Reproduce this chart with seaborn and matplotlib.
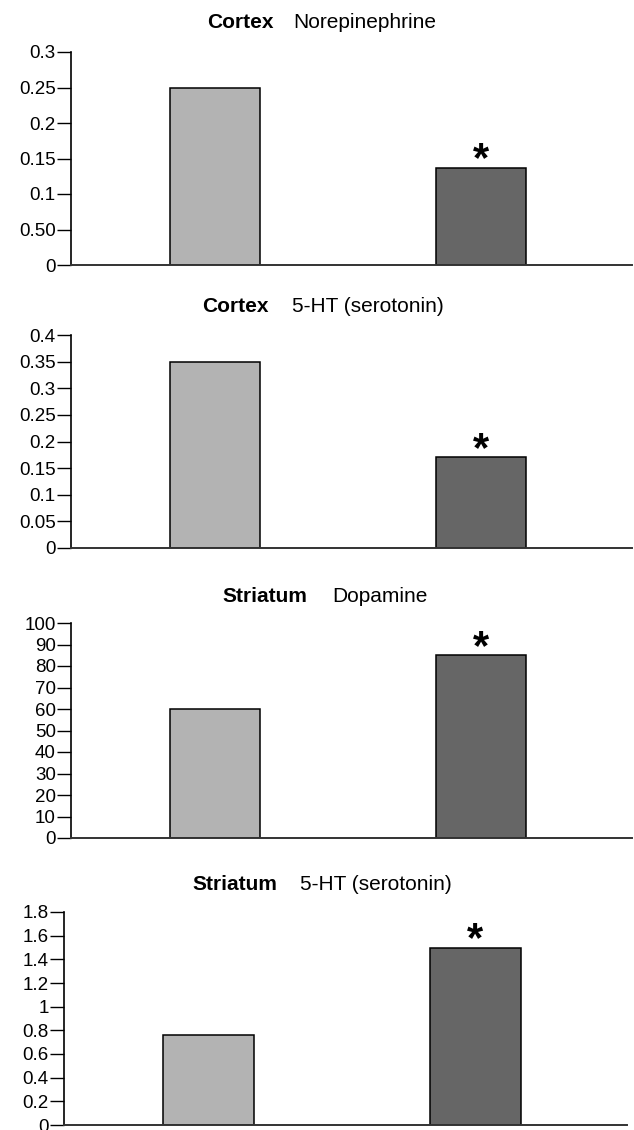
import matplotlib
matplotlib.use("Agg")
import matplotlib.pyplot as plt
import seaborn as sns

# Data
groups = ["Control", "Treated"]
regions = ["Cortex", "Cortex", "Striatum", "Striatum"]
measures = ["Norepinephrine", "5-HT (serotonin)", "Dopamine", "5-HT (serotonin)"]
values = [
    [0.25, 0.137],
    [0.35, 0.17],
    [60, 85],
    [0.76, 1.5],
]
significant = [1, 1, 1, 1]  # index of the bar with the asterisk
yticks = [
    [0, 0.05, 0.1, 0.15, 0.2, 0.25, 0.3],
    [0, 0.05, 0.1, 0.15, 0.2, 0.25, 0.3, 0.35, 0.4],
    [0, 10, 20, 30, 40, 50, 60, 70, 80, 90, 100],
    [0, 0.2, 0.4, 0.6, 0.8, 1, 1.2, 1.4, 1.6, 1.8],
]
ytick_labels = [
    ["0", "0.50", "0.1", "0.15", "0.2", "0.25", "0.3"],
    ["0", "0.05", "0.1", "0.15", "0.2", "0.25", "0.3", "0.35", "0.4"],
    ["0", "10", "20", "30", "40", "50", "60", "70", "80", "90", "100"],
    ["0", "0.2", "0.4", "0.6", "0.8", "1", "1.2", "1.4", "1.6", "1.8"],
]

sns.set_style("ticks")
plt.rcParams["font.family"] = ["Liberation Sans", "DejaVu Sans"]
plt.rcParams["text.color"] = "black"
plt.rcParams["ytick.labelcolor"] = "black"

W, H = 634, 1130
fig = plt.figure(figsize=(W / 100, H / 100), dpi=100)

# axes boxes in pixels: left, right, top, bottom
boxes = [
    (71, 632, 52, 265),
    (71, 632, 335, 548),
    (71, 632, 623, 838),
    (64, 627, 912, 1125),
]
# title: (bold start x, regular start x, centre y)
title_pos = [
    (207, 293, 22),
    (202, 292, 306),
    (222, 332, 596),
    (192, 300, 885),
]

palette = ["#b3b3b3", "#666666"]

for i in range(4):
    l, r, t, b = boxes[i]
    ax = fig.add_axes([l / W, 1 - b / H, (r - l) / W, (b - t) / H])
    sns.barplot(x=groups, y=values[i], hue=groups, palette=palette, legend=False,
                width=0.338, edgecolor="black", linewidth=1.1, saturation=1, ax=ax)
    ax.set_xlim(-0.5415, 1.568)
    ax.set_ylim(yticks[i][0], yticks[i][-1])
    ax.set_yticks(yticks[i])
    ax.set_yticklabels(ytick_labels[i])
    ax.tick_params(axis="y", length=10, width=1, pad=1, labelsize=13.5, color="black")
    ax.tick_params(axis="x", bottom=False, labelbottom=False)
    ax.set_xlabel("")
    ax.set_ylabel("")
    for side in ["top", "right"]:
        ax.spines[side].set_visible(False)
    ax.spines["left"].set_linewidth(1.2)
    ax.spines["left"].set_color("black")
    ax.spines["bottom"].set_linewidth(1.4)
    ax.spines["bottom"].set_color("#333333")

    j = significant[i]
    ax.annotate("*", xy=(j, values[i][j]), xytext=(0, -2.5), textcoords="offset points",
                ha="center", va="baseline", fontsize=30, fontweight="bold", color="black")

    bx, rx, ty = title_pos[i]
    fig.text(bx / W, 1 - ty / H, regions[i], ha="left", va="center",
             fontsize=15, fontweight="bold")
    fig.text(rx / W, 1 - ty / H, measures[i], ha="left", va="center", fontsize=15)

fig.savefig("out.png", dpi=100)
